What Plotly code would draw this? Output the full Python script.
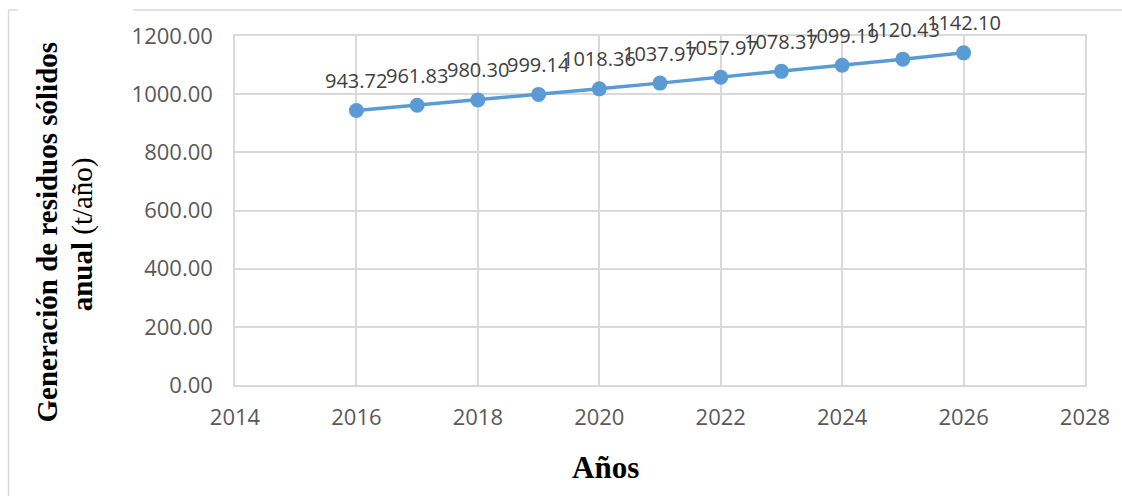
import plotly.graph_objects as go

# Annual solid waste generation projection
years = [2016, 2017, 2018, 2019, 2020, 2021, 2022, 2023, 2024, 2025, 2026]
generation = [943.72, 961.83, 980.30, 999.14, 1018.36, 1037.97, 1057.97, 1078.37, 1099.19, 1120.43, 1142.10]

x_ticks = [2014, 2016, 2018, 2020, 2022, 2024, 2026, 2028]
y_ticks = [0, 200, 400, 600, 800, 1000, 1200]

W, H = 1122, 496
ML, MR, MT, MB = 235, 35, 36, 111
PW, PH = W - ML - MR, H - MT - MB


def px_x(p):
    return (p - ML) / PW


def px_y(p):
    return 1 - (p - MT) / PH


LINE_BLUE = "#5B9BD5"
GRID = "#D9D9D9"

fig = go.Figure()
fig.add_trace(go.Scatter(
    x=years, y=generation, mode="lines+markers",
    line=dict(color=LINE_BLUE, width=3.5),
    marker=dict(color=LINE_BLUE, size=15),
    hoverinfo="x+y", showlegend=False,
))

# value labels above each point
for xv, yv in zip(years, generation):
    fig.add_annotation(
        x=xv, y=yv, text=f"{yv:.2f}", showarrow=False,
        yshift=30, xanchor="center", yanchor="middle",
        font=dict(family="Open Sans", size=20, color="#404040"),
    )

tick_font = dict(family="Open Sans", size=22, color="#595959")

fig.update_xaxes(
    range=[2014, 2028], tickvals=x_ticks, ticktext=[str(t) for t in x_ticks],
    showgrid=True, gridcolor=GRID, gridwidth=1.5,
    showline=True, linecolor=GRID, linewidth=1.5, mirror=True,
    zeroline=False, tickfont=tick_font, ticklabelstandoff=12,
    fixedrange=True,
)
fig.update_yaxes(
    range=[0, 1200], tickvals=y_ticks, ticktext=[f"{t:.2f}" for t in y_ticks],
    showgrid=True, gridcolor=GRID, gridwidth=1.5,
    showline=True, linecolor=GRID, linewidth=1.5, mirror=True,
    zeroline=False, tickfont=tick_font, ticklabelstandoff=16,
    fixedrange=True,
)

title_font = dict(family="Liberation Serif", size=29, color="#000000")

# axis titles
fig.add_annotation(
    xref="paper", yref="paper", x=px_x(606), y=px_y(467),
    text="<b>Años</b>", showarrow=False, xanchor="center", yanchor="middle",
    font=dict(family="Liberation Serif", size=31, color="#000000"),
)
fig.add_annotation(
    xref="paper", yref="paper", x=px_x(47), y=px_y(232),
    text="<b>Generación de residuos sólidos</b>", textangle=-90, showarrow=False,
    xanchor="center", yanchor="middle", font=title_font,
)
fig.add_annotation(
    xref="paper", yref="paper", x=px_x(82), y=px_y(234),
    text="<b>anual</b> (t/año)", textangle=-90, showarrow=False,
    xanchor="center", yanchor="middle", font=title_font,
)

# outer frame fragments
frame = dict(color=GRID, width=1.5)
fig.add_shape(type="line", xref="paper", yref="paper",
              x0=px_x(8), x1=px_x(8), y0=px_y(10), y1=px_y(500), line=frame)
fig.add_shape(type="line", xref="paper", yref="paper",
              x0=px_x(8), x1=px_x(17), y0=px_y(10), y1=px_y(10), line=frame)
fig.add_shape(type="line", xref="paper", yref="paper",
              x0=px_x(133), x1=px_x(1125), y0=px_y(10), y1=px_y(10), line=frame)

fig.update_layout(
    width=W, height=H,
    margin=dict(l=ML, r=MR, t=MT, b=MB),
    paper_bgcolor="white", plot_bgcolor="white",
)

fig.write_html("out.html")
